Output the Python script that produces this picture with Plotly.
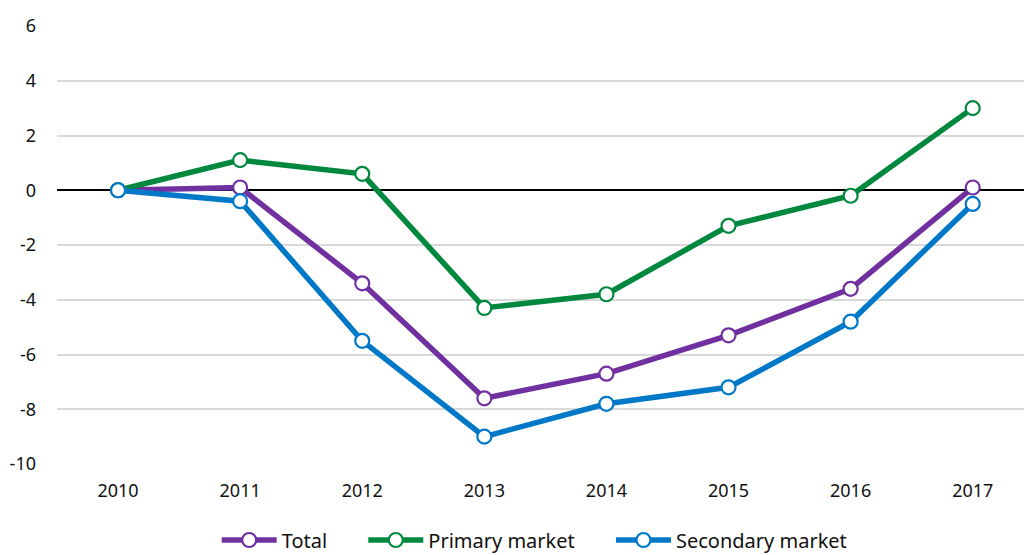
import plotly.graph_objects as go

years = ["2010", "2011", "2012", "2013", "2014", "2015", "2016", "2017"]
total = [0.0, 0.1, -3.4, -7.6, -6.7, -5.3, -3.6, 0.1]
primary = [0.0, 1.1, 0.6, -4.3, -3.8, -1.3, -0.2, 3.0]
secondary = [0.0, -0.4, -5.5, -9.0, -7.8, -7.2, -4.8, -0.5]
y_ticks = [-10, -8, -6, -4, -2, 0, 2, 4, 6]
y_tick_labels = ["-10", "-8", "-6", "-4", "-2", "0", "2", "4", "6"]

series = [
    ("Total", total, "#7030A0"),
    ("Primary market", primary, "#00883F"),
    ("Secondary market", secondary, "#0078C8"),
]

fig = go.Figure()
for name, vals, col in series:
    fig.add_trace(go.Scatter(
        x=years, y=vals, name=name + "      ", mode="lines+markers",
        line=dict(color=col, width=5.5),
        marker=dict(size=14, color="white", line=dict(color=col, width=2.2)),
        cliponaxis=False,
    ))

font = dict(family="Noto Sans, Open Sans, sans-serif", size=18, color="#111111")
fig.update_layout(
    width=1024, height=555,
    margin=dict(l=57, r=0, t=26, b=91, autoexpand=False),
    paper_bgcolor="white", plot_bgcolor="white",
    font=font,
    showlegend=True,
    legend=dict(orientation="h", x=0.51, xanchor="center", y=-0.1735, yanchor="middle",
                font=dict(size=20), itemwidth=55, tracegroupgap=0),
)
fig.update_xaxes(type="category", range=[-0.5, 7.42], showgrid=False,
                 showline=False, ticks="", tickfont=dict(size=18),
                 automargin=False, ticklabelstandoff=14)
fig.update_yaxes(range=[-10, 6], tickvals=y_ticks, ticktext=y_tick_labels,
                 showgrid=True, gridcolor="#d9d9d9", gridwidth=1.5, zeroline=True,
                 zerolinecolor="black", zerolinewidth=1.5, ticks="",
                 ticklabelstandoff=20, tickfont=dict(size=18), automargin=False)

fig.write_html("out.html", config={"displayModeBar": False},
               post_script="document.body.style.margin='0px';document.body.style.overflow='hidden';")
